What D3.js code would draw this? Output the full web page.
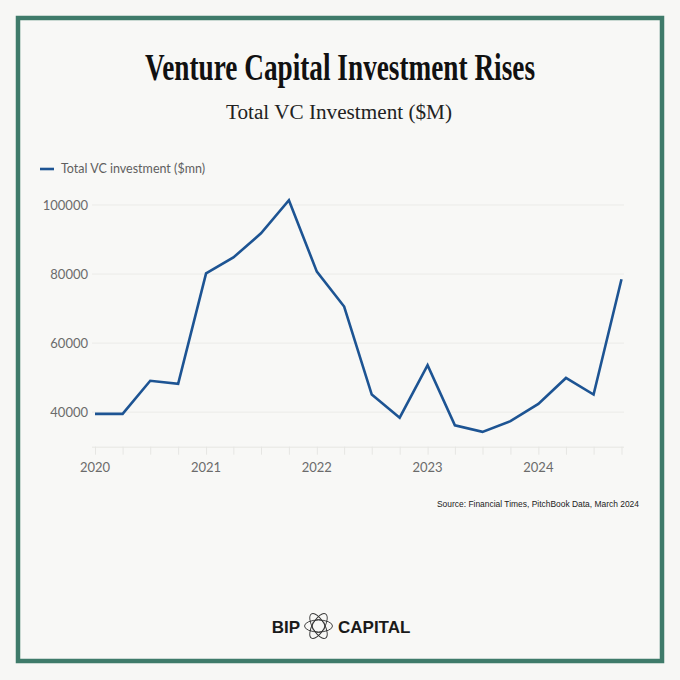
<!DOCTYPE html>
<html>
<head>
<meta charset="utf-8">
<script src="https://cdn.jsdelivr.net/npm/d3@7"></script>
<style>
  html, body { margin: 0; padding: 0; background: #f7f7f5; }
  svg { display: block; }
</style>
</head>
<body>
<div id="chart"></div>
<script>
// Data, quarterly 2020 Q1 .. 2024 Q4
const quarters = [
  "2020-01", "2020-04", "2020-07", "2020-10",
  "2021-01", "2021-04", "2021-07", "2021-10",
  "2022-01", "2022-04", "2022-07", "2022-10",
  "2023-01", "2023-04", "2023-07", "2023-10",
  "2024-01", "2024-04", "2024-07", "2024-10"
];
const investment = [
  39500, 39500, 49100, 48200,
  80200, 84800, 91800, 101400,
  80700, 70600, 45100, 38400,
  53600, 36200, 34300, 37400,
  42400, 49900, 45100, 78500
];
const yTicks = [40000, 60000, 80000, 100000];
const xYears = ["2020", "2021", "2022", "2023", "2024"];

const W = 680, H = 680;
const parse = d3.timeParse("%Y-%m");
const data = quarters.map((q, i) => ({ date: parse(q), value: investment[i] }));

const svg = d3.select('#chart').append('svg')
  .attr('width', W).attr('height', H);

svg.append('rect').attr('width', W).attr('height', H).attr('fill', '#f7f7f5');

// frame
svg.append('rect')
  .attr('x', 18).attr('y', 18).attr('width', 644).attr('height', 643)
  .attr('fill', '#f8f8f6').attr('stroke', '#3f7b6a').attr('stroke-width', 4.5);

// titles
svg.append('text')
  .attr('x', 340).attr('y', 80)
  .attr('text-anchor', 'middle')
  .attr('font-family', '"Liberation Serif", serif')
  .attr('font-weight', 'bold')
  .attr('font-size', 37)
  .attr('textLength', 390).attr('lengthAdjust', 'spacingAndGlyphs')
  .attr('fill', '#111')
  .text('Venture Capital Investment Rises');

svg.append('text')
  .attr('x', 339).attr('y', 119)
  .attr('text-anchor', 'middle')
  .attr('font-family', '"Liberation Serif", serif')
  .attr('font-size', 20)
  .attr('textLength', 226).attr('lengthAdjust', 'spacingAndGlyphs')
  .attr('fill', '#222')
  .text('Total VC Investment ($M)');

// scales
const x = d3.scaleTime()
  .domain([parse("2020-01"), parse("2024-10")])
  .range([95, 621.5]);
const y = d3.scaleLinear()
  .domain([30000, 100000])
  .range([446.7, 205]);

const g = svg.append('g');

// gridlines
g.selectAll('.grid')
  .data(yTicks)
  .enter().append('line')
  .attr('x1', 92).attr('x2', 624)
  .attr('y1', d => y(d)).attr('y2', d => y(d))
  .attr('stroke', '#ebebe8').attr('stroke-width', 1);

// y labels
g.selectAll('.ylab')
  .data(yTicks)
  .enter().append('text')
  .attr('x', 88).attr('y', d => y(d) + 4.5)
  .attr('text-anchor', 'end')
  .attr('font-family', 'Lato, sans-serif')
  .attr('font-size', 13)
  .attr('fill', '#6b6b6b')
  .text(d => d);

// x axis
const xAxis = d3.axisBottom(x)
  .tickValues(data.map(d => d.date))
  .tickSize(8)
  .tickFormat('');
const ax = g.append('g')
  .attr('transform', `translate(0,${y(30000)})`)
  .call(xAxis);
ax.select('.domain').attr('d', `M92,0.5H624`).attr('stroke', '#e6e6e3');
ax.selectAll('.tick line').attr('stroke', '#e6e6e3');

g.selectAll('.xlab')
  .data(xYears)
  .enter().append('text')
  .attr('x', d => x(parse(d + "-01")))
  .attr('y', 472)
  .attr('text-anchor', 'middle')
  .attr('font-family', 'Lato, sans-serif')
  .attr('font-size', 13)
  .attr('fill', '#6b6b6b')
  .text(d => d);

// line
const line = d3.line().x(d => x(d.date)).y(d => y(d.value));
g.append('path')
  .datum(data)
  .attr('d', line)
  .attr('fill', 'none')
  .attr('stroke', '#1d5493')
  .attr('stroke-width', 2.6)
  .attr('stroke-linejoin', 'miter');

// legend
svg.append('line')
  .attr('x1', 40).attr('x2', 54).attr('y1', 169).attr('y2', 169)
  .attr('stroke', '#1d5493').attr('stroke-width', 2.6);
svg.append('text')
  .attr('x', 61).attr('y', 173)
  .attr('font-family', 'Lato, sans-serif')
  .attr('font-size', 12.5)
  .attr('fill', '#5f5f5f')
  .text('Total VC investment ($mn)');

// source
svg.append('text')
  .attr('x', 639).attr('y', 507)
  .attr('text-anchor', 'end')
  .attr('font-family', '"Liberation Sans", Arial, sans-serif')
  .attr('font-size', 8.6)
  .attr('textLength', 202).attr('lengthAdjust', 'spacingAndGlyphs')
  .attr('fill', '#222')
  .text('Source: Financial Times, PitchBook Data, March 2024');

// logo
const logo = svg.append('g');
logo.append('text')
  .attr('x', 300).attr('y', 633)
  .attr('text-anchor', 'end')
  .attr('font-family', '"Liberation Sans", Arial, sans-serif')
  .attr('font-weight', 'bold')
  .attr('font-size', 17)
  .attr('fill', '#1a1a1a')
  .text('BIP');
logo.append('text')
  .attr('x', 338).attr('y', 633)
  .attr('font-family', '"Liberation Sans", Arial, sans-serif')
  .attr('font-weight', 'bold')
  .attr('font-size', 17)
  .attr('fill', '#1a1a1a')
  .text('CAPITAL');

const atom = logo.append('g').attr('transform', 'translate(318.5,626)');
[0, 60, 120].forEach(a => {
  atom.append('ellipse')
    .attr('rx', 14).attr('ry', 6)
    .attr('transform', `rotate(${a})`)
    .attr('fill', 'none').attr('stroke', '#333').attr('stroke-width', 0.9);
});
atom.append('circle').attr('r', 6.5)
  .attr('fill', 'none').attr('stroke', '#333').attr('stroke-width', 0.9);
</script>
</body>
</html>
